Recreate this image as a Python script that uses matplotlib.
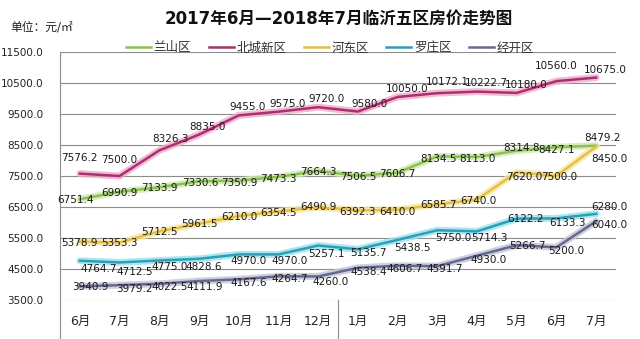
# -*- coding: utf-8 -*-
"""
临沂五区房价走势 (2017.6 - 2018.7)
"""
import matplotlib
matplotlib.use("Agg")
import matplotlib.pyplot as plt
import matplotlib.transforms as mtransforms
import numpy as np

plt.rcParams["font.family"] = ["DejaVu Sans", "Noto Sans CJK SC"]

MONTHS = ["6月", "7月", "8月", "9月", "10月", "11月", "12月",
          "1月", "2月", "3月", "4月", "5月", "6月", "7月"]

lanshan = [6751.4, 6990.9, 7133.9, 7330.6, 7350.9, 7473.3, 7664.3,
           7506.5, 7606.7, 8134.5, 8113.0, 8314.8, 8427.1, 8479.2]
beicheng = [7576.2, 7500.0, 8326.3, 8835.0, 9455.0, 9575.0, 9720.0,
            9580.0, 10050.0, 10172.1, 10222.7, 10180.0, 10560.0, 10675.0]
hedong = [5378.9, 5353.3, 5712.5, 5961.5, 6210.0, 6354.5, 6490.9,
          6392.3, 6410.0, 6585.7, 6740.0, 7620.0, 7500.0, 8450.0]
luozhuang = [4764.7, 4712.5, 4775.0, 4828.6, 4970.0, 4970.0, 5257.1,
             5135.7, 5438.5, 5750.0, 5714.3, 6122.2, 6133.3, 6280.0]
jingkai = [3940.9, 3979.2, 4022.5, 4111.9, 4167.6, 4264.7, 4260.0,
           4538.4, 4606.7, 4591.7, 4930.0, 5266.7, 5200.0, 6040.0]

# name, values, line colour, glow colour, label offsets (px)
SERIES = [
    ("兰山区", lanshan, "#8cc152", "#cfe8ad",
     [(-4, -1), (0, -1), (0, -1), (1, -2), (1, -2), (0, -2), (0, -1),
      (0, -1), (0, -1), (1, -3), (0, -2), (5, 3), (0, -3), (6, 8)]),
    ("北城新区", beicheng, "#a8326e", "#f0a8cc",
     [(0, 16), (0, 16), (11, 11), (8, 8), (9, 8), (9, 8), (8, 8),
      (12, 8), (10, 8), (10, 11), (9, 9), (9, 8), (0, 15), (9, 8)]),
    ("河东区", hedong, "#e6bf45", "#f7e7a6",
     [(0, -1), (0, 0), (0, -1), (0, 0), (1, -1), (0, -1), (0, 0),
      (0, -2), (0, -2), (1, -1), (1, -1), (8, -5), (3, -1), (13, -12)]),
    ("罗庄区", luozhuang, "#2e9fb3", "#96e2f0",
     [(19, -8), (15, -10), (10, -7), (5, -8), (10, -7), (11, -7), (8, -8),
      (11, -4), (15, -8), (16, -8), (12, -7), (9, 0), (11, -5), (13, 7)]),
    ("经开区", jingkai, "#66698e", "#c3c5d8",
     [(10, -1), (15, -4), (10, -3), (6, -6), (10, -4), (11, -3), (12, -6),
      (11, -4), (7, -3), (7, -3), (12, -4), (11, -1), (10, -4), (13, -4)]),
]

fig = plt.figure(figsize=(6.4, 3.39), dpi=100)
ax = fig.add_axes([60 / 640, 1 - 300 / 339, 556 / 640, 248 / 339])

x = np.arange(len(MONTHS))
for name, vals, color, glow, offs in SERIES:
    ax.plot(x, vals, color=glow, lw=5, alpha=0.8, solid_capstyle="round", zorder=2)
    ax.plot(x, vals, color=color, lw=1.8, label=name, zorder=3)
    for xi, v, (dx, dy) in zip(x, vals, offs):
        ax.annotate("{:.1f}".format(v), (xi, v), xytext=(dx, dy),
                    textcoords="offset pixels", ha="center", va="center",
                    fontsize=7.5, color="#1a1a1a", zorder=4)

ax.set_xlim(-0.5, len(MONTHS) - 0.5)
ax.set_ylim(3500, 11500)
ax.set_yticks(np.arange(3500, 11501, 1000))
ax.set_yticklabels(["{:.1f}".format(t) for t in np.arange(3500, 11501, 1000)])
ax.set_xticks(x)
ax.set_xticklabels(MONTHS)
ax.tick_params(axis="y", length=0, pad=12, labelsize=7.5, labelcolor="#222222")
ax.tick_params(axis="x", length=0, pad=11, labelsize=9, labelcolor="#222222")
ax.grid(axis="y", color="#8c8c8c", lw=0.8)
ax.set_axisbelow(True)
for s in ["top", "right", "bottom", "left"]:
    ax.spines[s].set_visible(False)

# left axis line and year separator running into the label area
trans = mtransforms.blended_transform_factory(ax.transData, ax.transAxes)
ax.plot([-0.5, -0.5], [1, -0.16], transform=trans, color="#8c8c8c",
        lw=0.8, clip_on=False)
ax.plot([6.5, 6.5], [0, -0.16], transform=trans, color="#8c8c8c",
        lw=0.8, clip_on=False)

leg = ax.legend(loc="center", bbox_to_anchor=(330 / 640, 1 - 48 / 339),
                bbox_transform=fig.transFigure, ncol=5, frameon=False,
                fontsize=9, handlelength=2.0, columnspacing=1.4,
                handletextpad=0.2)
for t in leg.get_texts():
    t.set_color("#333333")

fig.text(339 / 640, 1 - 19 / 339, "2017年6月—2018年7月临沂五区房价走势图",
         ha="center", va="center", fontsize=12, fontweight="bold",
         color="#111111")
fig.text(10 / 640, 1 - 27 / 339, "单位：元/㎡", ha="left", va="center",
         fontsize=8.5, color="#222222")

fig.savefig("out.png", dpi=100)
